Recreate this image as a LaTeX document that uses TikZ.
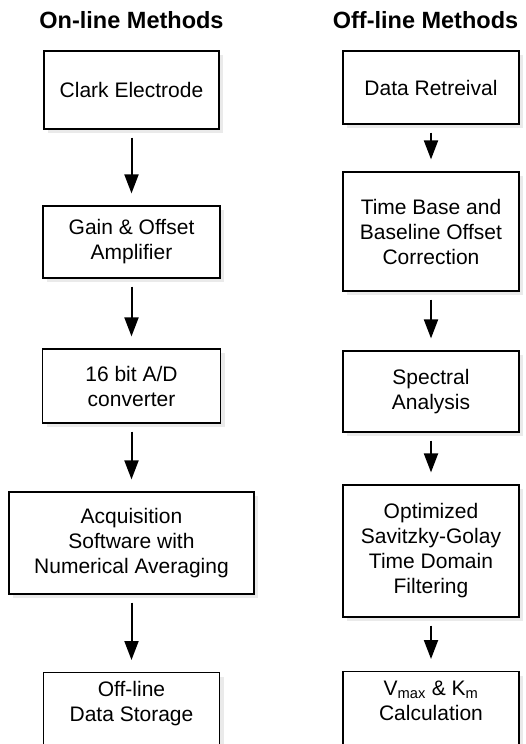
\documentclass[tikz,border=0pt]{standalone}
\usepackage{fontspec}
\setmainfont{Liberation Sans}
\usetikzlibrary{arrows.meta,shadows}

\begin{document}
\begin{tikzpicture}[x=1pt, y=-1pt,
    stage/.style={rectangle, draw=black, line width=1.2pt, fill=white,
        drop shadow={shadow xshift=4pt, shadow yshift=-4pt, fill=black!16},
        align=center, inner sep=4pt, font=\fontsize{21}{25}\selectfont},
    openstage/.style={stage, anchor=north, inner ysep=9pt, text depth=70pt},
    heading/.style={anchor=base, font=\fontsize{23.5}{28}\selectfont\bfseries},
    flow/.style={line width=2pt, -{Triangle[length=19pt,width=14pt]},
        shorten <=8pt, shorten >=12pt}
]
    \useasboundingbox (0,0) rectangle (526,744);
    % column headings
    \node[heading] (onhead) at (131.5,28) {On-line Methods};
    \node[heading] (offhead) at (425.5,28) {Off-line Methods};
    % on-line column
    \node[stage, minimum width=175pt, minimum height=78pt] (clark) at (131.5,90) {Clark Electrode};
    \node[stage, minimum width=177pt, minimum height=72pt] (gain) at (131.5,242) {Gain \& Offset\\Amplifier};
    \node[stage, minimum width=178pt, minimum height=74pt] (adc) at (131.5,386) {16 bit A/D\\converter};
    \node[stage, minimum width=245pt, minimum height=102pt] (acq) at (131.5,543) {Acquisition\\Software with\\Numerical Averaging};
    \node[openstage, minimum width=176pt] (store) at (131.5,672) {Off-line\\Data Storage};
    % off-line column
    \node[stage, minimum width=176pt, minimum height=73pt] (retr) at (431,87.5) {Data Retreival};
    \node[stage, minimum width=176pt, minimum height=119pt] (tbase) at (431,231.5) {Time Base and\\Baseline Offset\\Correction};
    \node[stage, minimum width=176pt, minimum height=81pt] (spec) at (431,391.5) {Spectral\\Analysis};
    \node[stage, minimum width=176pt, minimum height=132pt] (sgolay) at (431,551) {Optimized\\Savitzky-Golay\\Time Domain\\Filtering};
    \node[openstage, minimum width=176pt] (kin) at (431,671) {V\textsubscript{max} \& K\textsubscript{m}\\Calculation};
    % arrows
    \draw[flow] (clark) -- (gain);
    \draw[flow] (gain) -- (adc);
    \draw[flow] (adc) -- (acq);
    \draw[flow] (acq) -- (store);
    \draw[flow] (retr) -- (tbase);
    \draw[flow] (tbase) -- (spec);
    \draw[flow] (spec) -- (sgolay);
    \draw[flow] (sgolay) -- (kin);
\end{tikzpicture}
\end{document}
